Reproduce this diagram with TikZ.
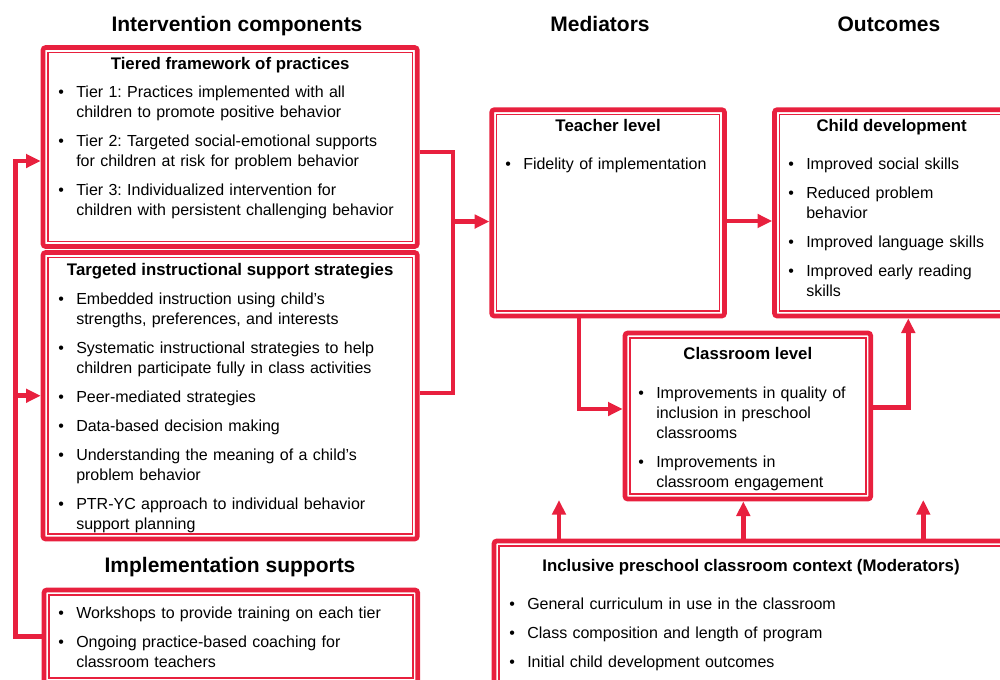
\documentclass[tikz,border=0pt]{standalone}
\usepackage{fontspec}
\setmainfont{Liberation Sans}
\usetikzlibrary{positioning,arrows.meta,fit,calc}
\definecolor{pbred}{RGB}{232,32,62}
\frenchspacing
\newcommand{\bitem}[1]{\par\noindent\hangindent=13.5pt\hangafter=1\makebox[13.5pt][l]{\textbullet}\strut#1\par}

\begin{document}
\begin{tikzpicture}[x=0.75pt, y=-0.75pt,
  cbox/.style={draw=pbred, line width=3.5pt, rounded corners=2pt, inner sep=0pt, fill=white,
    path picture={\draw[pbred, line width=1.1pt, sharp corners]
      ($(path picture bounding box.south west)+(3.6pt,3.6pt)$) rectangle
      ($(path picture bounding box.north east)-(3.6pt,3.6pt)$);}},
  cline/.style={draw=pbred, line width=3.5pt},
  carrow/.style={cline, -{Triangle[length=11pt,width=10pt]}},
  chead/.style={font={\fontsize{15.75}{18}\selectfont\bfseries}, anchor=base, inner sep=0pt},
  ctitle/.style={font={\fontsize{12.6}{15}\selectfont\bfseries}, anchor=base, inner sep=0pt},
  clist/.style={anchor=north west, inner sep=0pt, text width=300pt, align=left,
    font={\fontsize{12}{15}\selectfont\setlength{\parskip}{6.75pt}}}
]
\useasboundingbox (0,0) rectangle (1000,679);
\clip (0,0) rectangle (1000,679);

\node[cbox, fit={(43,47.5) (417.3,246.5)}] (tiered) {};
\node[cbox, fit={(43,252.5) (417.3,539)}] (targeted) {};
\node[cbox, fit={(44,590) (417.7,683)}] (impl) {};
\node[cbox, fit={(491.7,109.7) (724.5,316)}] (teacher) {};
\node[cbox, fit={(774.5,109.7) (1009,316)}] (child) {};
\node[cbox, fit={(625,333) (870.7,499)}] (classroom) {};
\node[cbox, fit={(494,541) (1008,700)}] (context) {};

\node[chead] (hint) at (237,31) {Intervention components};
\node[chead] (hmed) at (600,31) {Mediators};
\node[chead] (hout) at (889,31) {Outcomes};
\node[chead] (himp) at (230,572) {Implementation supports};

\node[ctitle] (ttiered) at (230.2,69.3) {Tiered framework of practices};
\node[ctitle] (ttargeted) at (230.2,275) {Targeted instructional support strategies};
\node[ctitle] (tteacher) at (608.1,131) {Teacher level};
\node[ctitle] (tchild) at (891.7,131) {Child development};
\node[ctitle] (tclassroom) at (747.8,359.3) {Classroom level};
\node[ctitle] (tcontext) at (751,571) {Inclusive preschool classroom context (Moderators)};

\node[clist] (ltiered) at (58,68.3) {%
  \bitem{Tier 1: Practices implemented with all\newline children to promote positive behavior}
  \bitem{Tier 2: Targeted social-emotional supports\newline for children at risk for problem behavior}
  \bitem{Tier 3: Individualized intervention for\newline children with persistent challenging behavior}};
\node[clist] (ltargeted) at (58,275) {%
  \bitem{Embedded instruction using child’s\newline strengths, preferences, and interests}
  \bitem{Systematic instructional strategies to help\newline children participate fully in class activities}
  \bitem{Peer-mediated strategies}
  \bitem{Data-based decision making}
  \bitem{Understanding the meaning of a child’s\newline problem behavior}
  \bitem{PTR-YC approach to individual behavior\newline support planning}};
\node[clist] (limpl) at (58,589.3) {%
  \bitem{Workshops to provide training on each tier}
  \bitem{Ongoing practice-based coaching for\newline classroom teachers}};
\node[clist] (lteacher) at (505,140) {\bitem{Fidelity of implementation}};
\node[clist] (lchild) at (788,140) {%
  \bitem{Improved social skills}
  \bitem{Reduced problem\newline behavior}
  \bitem{Improved language skills}
  \bitem{Improved early reading\newline skills}};
\node[clist] (lclassroom) at (638,369.3) {%
  \bitem{Improvements in quality of\newline inclusion in preschool\newline classrooms}
  \bitem{Improvements in\newline classroom engagement}};
\node[clist] (lcontext) at (509,580.3) {%
  \bitem{General curriculum in use in the classroom}
  \bitem{Class composition and length of program}
  \bitem{Initial child development outcomes}};

\coordinate (lp) at (15.5,400);
\coordinate (mj) at (453,300);
\coordinate (tin) at ([yshift=-6.5pt]teacher.west);
\coordinate (m1) at (559,500);
\coordinate (m3) at (923.3,500);

\draw[carrow] (impl.west) -| (lp) |- ([yshift=-10.5pt]tiered.west);
\draw[carrow] (lp |- targeted.west) -- (targeted.west);
\draw[cline] ([yshift=-3.75pt]tiered.east) -| (mj) |- ([yshift=2pt]targeted.east);
\draw[carrow] (mj |- tin) -- (tin);
\draw[carrow] ([yshift=-6.1pt]teacher.east) -- ([yshift=-6.1pt]child.west);
\draw[carrow] ([xshift=-21.8pt]teacher.south) |- ([yshift=5.25pt]classroom.west);
\draw[carrow] ([yshift=6.2pt]classroom.east) -| ([xshift=12.4pt]child.south);
\draw[carrow] (m1 |- context.north) -- (m1);
\draw[carrow] ([xshift=-3.4pt]classroom.south |- context.north) -- ([xshift=-3.4pt]classroom.south);
\draw[carrow] (m3 |- context.north) -- (m3);
\end{tikzpicture}
\end{document}
